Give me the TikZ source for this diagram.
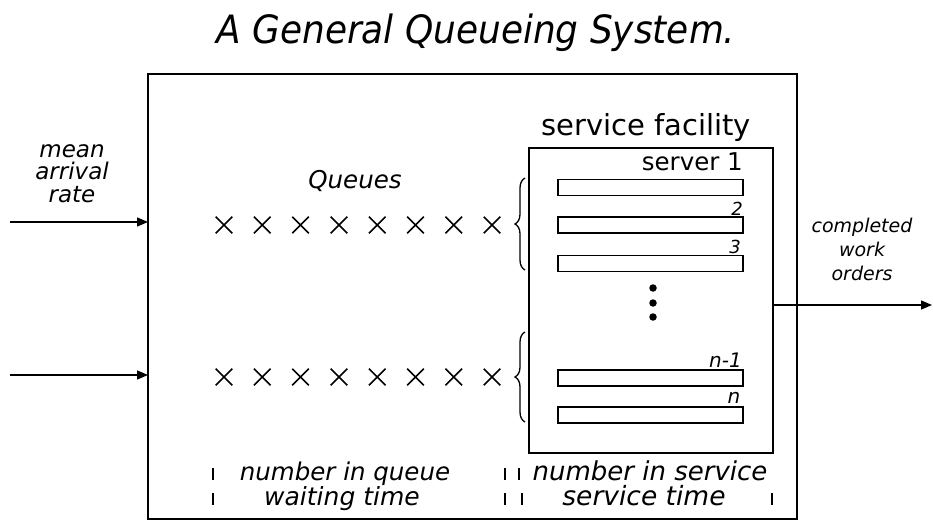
\documentclass[tikz,border=0pt]{standalone}
\usepackage{fontspec}
\setmainfont{DejaVu Sans}
\usetikzlibrary{shapes.misc,decorations.pathreplacing,arrows.meta}

\tikzset{
  frame/.style={draw, line width=2.8pt, inner sep=0pt, outer sep=0pt},
  facilitybox/.style={draw, line width=2pt, inner sep=0pt, outer sep=0pt},
  serverbar/.style={draw, line width=1.8pt, inner sep=0pt, outer sep=0pt,
    minimum width=185pt, minimum height=16pt},
  customer/.style={cross out, draw, line width=1.6pt, minimum size=15pt, inner sep=0pt},
  flow/.style={line width=1.4pt, -{Triangle[length=11pt,width=9pt]}},
  bracket/.style={decorate, decoration={brace, amplitude=10pt}, line width=1.3pt},
  tick/.style={line width=1.3pt},
  lbl/.style={inner sep=0pt, anchor=base},
  dot/.style={circle, fill, minimum size=7.5pt, inner sep=0pt},
}

\begin{document}
\begin{tikzpicture}[x=1pt, y=-1pt]
\useasboundingbox (0,0) rectangle (933,527);

% title
\node[lbl, font=\fontsize{39}{42}\selectfont\itshape] (title) at (476,44) {\scalebox{0.92}[1]{A General Queueing System.}};

% whole system and the service facility inside it
\node[frame, minimum width=649pt, minimum height=445pt] (system) at (472.5,296.5) {};
\node[facilitybox, minimum width=244pt, minimum height=305pt] (facility) at (651,300.5) {};
\node[lbl, font=\fontsize{29}{32}\selectfont] (factitle) at (646,135) {service facility};

% servers
\node[serverbar] (s1) at (650.5,187.5) {};
\node[serverbar] (s2) at (650.5,225) {};
\node[serverbar] (s3) at (650.5,263.5) {};
\node[serverbar] (sn1) at (650.5,378) {};
\node[serverbar] (sn) at (650.5,415) {};
\node[lbl, anchor=base east, font=\fontsize{24.5}{28}\selectfont] (l1) at (743,170) {server 1};
\node[lbl, font=\fontsize{18}{20}\selectfont\itshape] (l2) at (737,215) {2};
\node[lbl, font=\fontsize{18}{20}\selectfont\itshape] (l3) at (735,253) {3};
\node[lbl, anchor=base east, font=\fontsize{20}{22}\selectfont\itshape] (ln1) at (742,367) {n-1};
\node[lbl, font=\fontsize{20}{22}\selectfont\itshape] (ln) at (734,403) {n};
\node[dot] (d1) at (653,288) {};
\node[dot] (d2) at (653,303) {};
\node[dot] (d3) at (653,317) {};

% queues
\node[lbl, font=\fontsize{24.5}{28}\selectfont\itshape] (queues) at (355,188) {Queues};
\foreach \i in {0,...,7} {
  \node[customer] (qa\i) at ({224+38.3*\i},225) {};
  \node[customer] (qb\i) at ({224+38.3*\i},377) {};
}
\draw[bracket] (525,270) -- (525,178);
\draw[bracket] (525,422) -- (525,332);

% arrivals
\node[align=center, inner sep=0pt, anchor=base, font=\fontsize{23}{22.5}\selectfont\itshape] (arrival) at (72,202) {mean\\arrival\\rate};
\coordinate (in1) at (10,222);
\coordinate (in2) at (10,375);
\draw[flow] (in1) -- (in1 -| system.west);
\draw[flow] (in2) -- (in2 -| system.west);

% departures
\node[align=center, inner sep=0pt, anchor=base, font=\fontsize{19}{24}\selectfont\itshape] (done) at (862,280) {completed\\work\\orders};
\coordinate (out) at (932,305);
\draw[flow] (out -| facility.east) -- (out);

% measures along the bottom
\node[lbl, font=\fontsize{24.5}{28}\selectfont\itshape] (nq) at (345,480) {number in queue};
\node[lbl, font=\fontsize{25}{28}\selectfont\itshape] (wt) at (342,505) {waiting time};
\node[lbl, font=\fontsize{26}{28}\selectfont\itshape] (ns) at (650,480) {number in service};
\node[lbl, font=\fontsize{26.5}{28}\selectfont\itshape] (st) at (644,505) {service time};
\foreach \x in {213,505,519} \draw[tick] (\x,468) -- (\x,480);
\foreach \x in {213,505,522,772} \draw[tick] (\x,493) -- (\x,505);
\end{tikzpicture}
\end{document}
